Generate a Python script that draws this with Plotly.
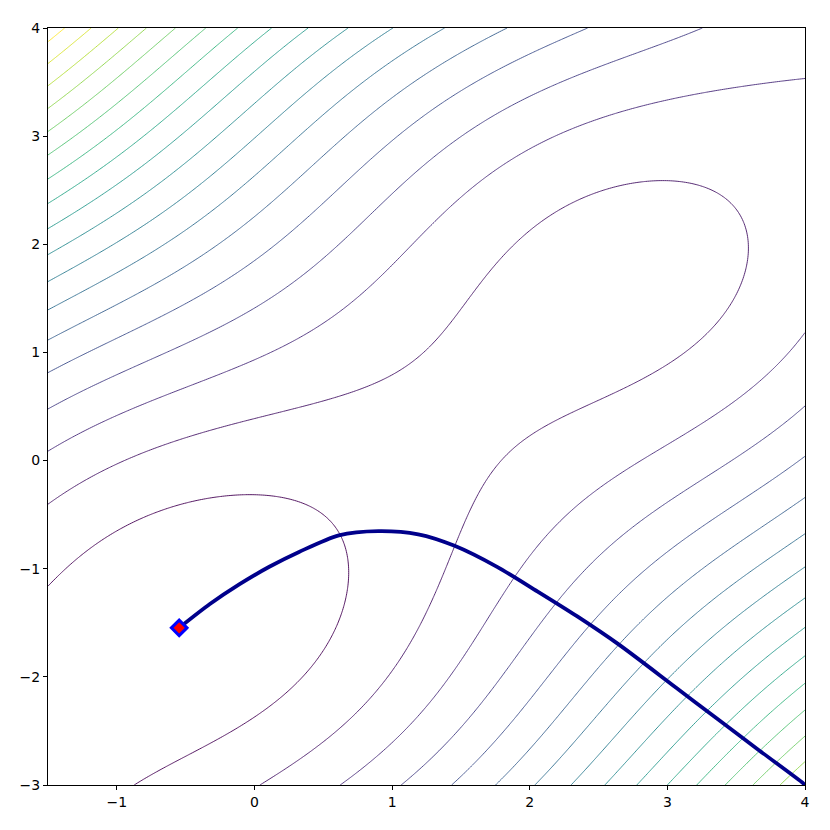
import numpy as np
import plotly.graph_objects as go

# Domain and contour levels (McCormick function surface)
x_range = [-1.5, 4.0]
y_range = [-3.0, 4.0]
level_start, level_end, level_step = 0.0, 42.5, 2.5
color_min, color_max = -2.5, 45.0

# Optimisation path (x, y), from start to minimum
path_x = [4.000, 3.978, 3.665, 3.367, 3.064, 2.646, 2.343, 2.055, 1.766,
          1.454, 1.190, 0.901, 0.613, 0.324, 0.108, -0.108, -0.324, -0.547]
path_y = [-3.000, -2.975, -2.678, -2.392, -2.101, -1.700, -1.439, -1.209, -0.985,
          -0.788, -0.682, -0.652, -0.691, -0.845, -0.982, -1.143, -1.327, -1.547]

# End point marker (minimum)
end_x = [-0.547]
end_y = [-1.547]

x_ticks = [-1, 0, 1, 2, 3, 4]
y_ticks = [-3, -2, -1, 0, 1, 2, 3, 4]


def mccormick(x, y):
    return np.sin(x + y) + (x - y) ** 2 - 1.5 * x + 2.5 * y + 1.0


gx = np.linspace(x_range[0], x_range[1], 400)
gy = np.linspace(y_range[0], y_range[1], 400)
GX, GY = np.meshgrid(gx, gy)
Z = mccormick(GX, GY)


def lab(v):
    return str(v).replace("-", "\u2212")


fig = go.Figure()
fig.add_trace(go.Contour(
    x=gx, y=gy, z=Z,
    contours=dict(start=level_start, end=level_end, size=level_step, coloring="lines"),
    colorscale="Viridis", zmin=color_min, zmax=color_max, zauto=False,
    line=dict(width=0.9), showscale=False, hoverinfo="skip",
))
fig.add_trace(go.Scatter(
    x=path_x, y=path_y, mode="lines",
    line=dict(color="#00008b", width=3.8, shape="spline", smoothing=0.8),
    hoverinfo="skip", showlegend=False,
))
fig.add_trace(go.Scatter(
    x=end_x, y=end_y, mode="markers",
    marker=dict(symbol="diamond", size=12, color="red", line=dict(color="blue", width=3)),
    showlegend=False,
))

axis_common = dict(
    showgrid=False, zeroline=False, showline=True, mirror=True,
    linecolor="black", linewidth=1, ticks="outside", ticklen=4, tickwidth=1,
    tickcolor="black", tickfont=dict(family="DejaVu Sans", size=14, color="black"),
)
fig.update_xaxes(range=x_range, tickvals=x_ticks, ticktext=[lab(v) for v in x_ticks], **axis_common)
fig.update_yaxes(range=y_range, tickvals=y_ticks, ticktext=[lab(v) for v in y_ticks], **axis_common)
fig.update_layout(
    width=814, height=814, margin=dict(l=39, r=12, t=12, b=32),
    plot_bgcolor="white", paper_bgcolor="white", showlegend=False,
)
fig.write_html("out.html")
